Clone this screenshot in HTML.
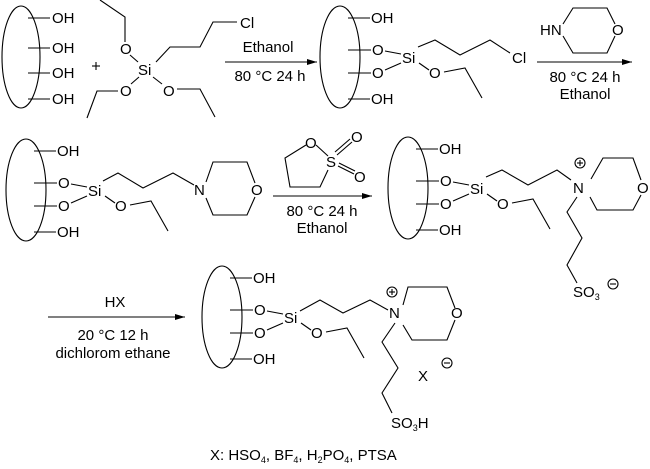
<!DOCTYPE html>
<html><head><style>body{margin:0;background:#fff}svg{display:block}text{font-family:"Liberation Sans",sans-serif;font-size:15px;fill:#000}</style></head>
<body>
<svg width="650" height="469" viewBox="0 0 650 469" xmlns="http://www.w3.org/2000/svg">
<defs>
<g id="blk" fill="none" stroke="#000" stroke-width="1.1">
<ellipse cx="0" cy="0" rx="20" ry="51"/>
<line x1="8" y1="-39" x2="30" y2="-39"/><line x1="8" y1="-7" x2="31" y2="-7"/>
<line x1="8" y1="16" x2="31" y2="16"/><line x1="8" y1="42" x2="30" y2="42"/>
<text x="31" y="-34" stroke="none">OH</text><text x="32" y="-2" stroke="none">O</text>
<text x="32" y="21" stroke="none">O</text><text x="31" y="47" stroke="none">OH</text>
<text x="62" y="6" stroke="none">Si</text>
<line x1="45" y1="-6" x2="61" y2="-3"/><line x1="45" y1="13" x2="61" y2="6"/>
<line x1="79" y1="6" x2="89" y2="13"/><text x="89" y="21" stroke="none">O</text>
<polyline points="104,15 125,11 142,41"/>
</g>
<marker id="ah" viewBox="0 0 10 6" refX="10" refY="3" markerWidth="10" markerHeight="6" orient="auto" markerUnits="userSpaceOnUse"><path d="M0,0 L10,3 L0,6 Z" fill="#000"/></marker>
</defs>
<g fill="none" stroke="#000" stroke-width="1.1">
<ellipse cx="21" cy="57" rx="19" ry="51"/>
<line x1="28" y1="18" x2="50" y2="18"/><line x1="28" y1="48" x2="50" y2="48"/>
<line x1="28" y1="73" x2="50" y2="73"/><line x1="28" y1="99" x2="50" y2="99"/>
<line x1="92" y1="66" x2="100" y2="66"/><line x1="96" y1="62" x2="96" y2="70"/>
<polyline points="125,42 125,17 100,0"/>
<line x1="130" y1="55" x2="138" y2="62"/>
<polyline points="156,62 170,47 200,47 213,22 237,22"/>
<line x1="139" y1="77" x2="131" y2="84"/><polyline points="118,91 97,91 87,118"/>
<line x1="153" y1="77" x2="162" y2="84"/><polyline points="177,89 200,89 215,117"/>
<line x1="225" y1="62" x2="317" y2="62" marker-end="url(#ah)"/>
<use href="#blk" x="340" y="57"/>
<polyline points="418,47 435,40 460,55 490,40 510,53"/>
<line x1="537" y1="62" x2="632" y2="62" marker-end="url(#ah)"/>
<polyline points="563,24 573,8 607,8 615,24"/><polyline points="615,36 607,53 573,53 563,36"/>
<use href="#blk" x="26" y="190"/>
<polyline points="103,181 118,173 143,188 173,173 194,185"/>
<polyline points="206,182 213,162 247,162 255,183"/><polyline points="255,197 247,215 213,215 206,198"/>
<line x1="273" y1="196" x2="372" y2="196" marker-end="url(#ah)"/>
<polyline points="306,145 285,158 290,187 320,187 328,170"/><line x1="316" y1="145" x2="328" y2="156"/>
<line x1="337" y1="155" x2="352" y2="142"/><line x1="335" y1="152" x2="350" y2="139"/>
<line x1="338" y1="166" x2="354" y2="174"/><line x1="339" y1="163" x2="355" y2="171"/>
<use href="#blk" x="408" y="188"/>
<polyline points="486,177 502,170 528,185 557,170 571,180"/>
<polyline points="591,179 603,158 633,158 641,180"/><polyline points="641,195 633,210 597,210 590,197"/>
<polyline points="577,197 567,212 582,238 567,265 577,283"/>
<circle cx="580" cy="163" r="5"/><line x1="577" y1="163" x2="583" y2="163"/><line x1="580" y1="160" x2="580" y2="166"/>
<circle cx="613" cy="284" r="5"/><line x1="610" y1="284" x2="616" y2="284"/>
<line x1="48" y1="317" x2="185" y2="317" marker-end="url(#ah)"/>
<use href="#blk" x="222" y="317"/>
<polyline points="300,311 320,300 343,313 370,300 388,310"/>
<polyline points="403,305 408,287 447,287 455,308"/><polyline points="455,320 447,340 412,340 403,325"/>
<polyline points="395,323 382,342 398,368 382,393 392,413"/>
<circle cx="392" cy="292" r="5"/><line x1="389" y1="292" x2="395" y2="292"/><line x1="392" y1="289" x2="392" y2="295"/>
<circle cx="447" cy="363" r="5"/><line x1="444" y1="363" x2="450" y2="363"/>
</g>
<g>
<text x="52" y="23">OH</text><text x="52" y="53">OH</text><text x="52" y="78">OH</text><text x="52" y="104">OH</text>
<text x="120" y="54">O</text><text x="138" y="75">Si</text><text x="120" y="96">O</text><text x="163" y="96">O</text>
<text x="240" y="28">Cl</text>
<text x="268" y="52" text-anchor="middle">Ethanol</text><text x="270" y="81" text-anchor="middle">80 °C 24 h</text>
<text x="512" y="63">Cl</text>
<text x="540" y="35">HN</text><text x="612" y="35">O</text>
<text x="585" y="82" text-anchor="middle">80 °C 24 h</text><text x="585" y="99" text-anchor="middle">Ethanol</text>
<text x="194" y="195">N</text><text x="251" y="195">O</text>
<text x="305" y="148">O</text><text x="326" y="167">S</text><text x="351" y="142">O</text><text x="354" y="182">O</text>
<text x="322" y="216" text-anchor="middle">80 °C 24 h</text><text x="322" y="233" text-anchor="middle">Ethanol</text>
<text x="573" y="193">N</text><text x="637" y="193">O</text>
<text x="573" y="297">SO<tspan font-size="9" dy="3">3</tspan></text>
<text x="115" y="307" text-anchor="middle">HX</text>
<text x="113" y="340" text-anchor="middle">20 °C 12 h</text><text x="113" y="358" text-anchor="middle">dichlorom ethane</text>
<text x="389" y="318">N</text><text x="451" y="318">O</text>
<text x="391" y="428">SO<tspan font-size="9" dy="3">3</tspan><tspan dy="-3">H</tspan></text>
<text x="418" y="381">X</text>
<text x="210" y="460">X: HSO<tspan font-size="9" dy="3">4</tspan><tspan dy="-3">, BF</tspan><tspan font-size="9" dy="3">4</tspan><tspan dy="-3">, H</tspan><tspan font-size="9" dy="3">2</tspan><tspan dy="-3">PO</tspan><tspan font-size="9" dy="3">4</tspan><tspan dy="-3">, PTSA</tspan></text>
</g>
</svg>
</body></html>
